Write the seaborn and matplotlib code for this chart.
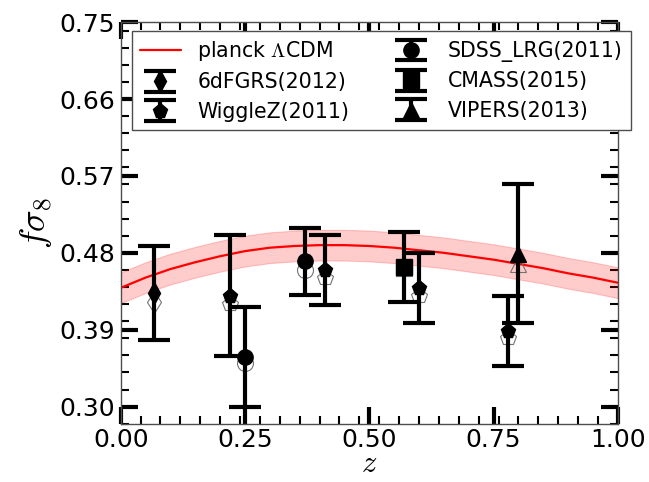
import numpy as np
import matplotlib
matplotlib.use("Agg")
import matplotlib.pyplot as plt
from matplotlib.ticker import MultipleLocator, FormatStrFormatter
import seaborn as sns

# planck LCDM prediction
z_model = [0.00, 0.05, 0.10, 0.15, 0.20, 0.25, 0.30, 0.35, 0.40, 0.45, 0.50,
           0.55, 0.60, 0.65, 0.70, 0.75, 0.80, 0.85, 0.90, 0.95, 1.00]
fs8_model = [0.439, 0.451, 0.461, 0.469, 0.476, 0.482, 0.486, 0.488, 0.489, 0.489, 0.488,
             0.486, 0.483, 0.480, 0.476, 0.472, 0.467, 0.462, 0.456, 0.451, 0.445]
fs8_model_err = [0.018] * len(z_model)

# survey measurements (filled = shifted values, open = original values)
z_6df = [0.067]
fs8_6df = [0.433]
err_6df = [0.055]
fs8_6df_open = [0.422]

z_wigglez = [0.22, 0.41, 0.60, 0.78]
fs8_wigglez = [0.430, 0.460, 0.439, 0.388]
err_wigglez = [0.071, 0.041, 0.041, 0.041]
fs8_wigglez_open = [0.42, 0.45, 0.43, 0.38]

z_sdss = [0.25, 0.37]
fs8_sdss = [0.358, 0.470]
err_sdss = [0.059, 0.039]
fs8_sdss_open = [0.351, 0.460]

z_cmass = [0.57]
fs8_cmass = [0.463]
err_cmass = [0.041]
fs8_cmass_open = [0.462]

z_vipers = [0.80]
fs8_vipers = [0.479]
err_vipers = [0.081]
fs8_vipers_open = [0.467]

xtick_vals = [0.00, 0.25, 0.50, 0.75, 1.00]
ytick_vals = [0.30, 0.39, 0.48, 0.57, 0.66, 0.75]

sns.set_style("white")
plt.rcParams["mathtext.fontset"] = "cm"
plt.rcParams["font.family"] = ["DejaVu Sans"]
for key in ["text.color", "axes.labelcolor", "xtick.color", "ytick.color"]:
    plt.rcParams[key] = "black"
plt.rcParams["xtick.direction"] = "in"
plt.rcParams["ytick.direction"] = "in"

fig = plt.figure(figsize=(6.49, 4.82), dpi=100)
ax = fig.add_subplot(111)
fig.subplots_adjust(left=0.186, right=0.952, bottom=0.121, top=0.954)

# model curve + band
lo = [m - e for m, e in zip(fs8_model, fs8_model_err)]
hi = [m + e for m, e in zip(fs8_model, fs8_model_err)]
ax.fill_between(z_model, lo, hi, color="red", alpha=0.2, lw=0.8, zorder=1)
sns.lineplot(x=z_model, y=fs8_model, color="red", lw=1.6, ax=ax, zorder=2)
line_handle = ax.lines[-1]

surveys = [
    ("6dFGRS(2012)", z_6df, fs8_6df, err_6df, fs8_6df_open, "d"),
    ("WiggleZ(2011)", z_wigglez, fs8_wigglez, err_wigglez, fs8_wigglez_open, "p"),
    ("SDSS_LRG(2011)", z_sdss, fs8_sdss, err_sdss, fs8_sdss_open, "o"),
    ("CMASS(2015)", z_cmass, fs8_cmass, err_cmass, fs8_cmass_open, "s"),
    ("VIPERS(2013)", z_vipers, fs8_vipers, err_vipers, fs8_vipers_open, "^"),
]

handles = {}
for name, zz, val, err, val_open, mk in surveys:
    # open markers for original values
    ax.plot(zz, val_open, ls="none", marker=mk, ms=11.5, mfc="none",
            mec="0.45", mew=0.8, zorder=3)
    h = ax.errorbar(zz, val, yerr=err, fmt=mk, color="black", ms=11,
                    elinewidth=3, capsize=11.5, capthick=3, zorder=4)
    handles[name] = h

order = ["6dFGRS(2012)", "WiggleZ(2011)", "SDSS_LRG(2011)", "CMASS(2015)", "VIPERS(2013)"]
leg_handles = [line_handle] + [handles[n] for n in order]
leg_labels = [r"planck $\Lambda$CDM"] + order
leg = ax.legend(leg_handles, leg_labels, ncol=2, fontsize=14.8, loc="upper left",
                bbox_to_anchor=(0.022, 0.978), borderaxespad=0, fancybox=False,
                framealpha=1, edgecolor="0.3", labelspacing=0.45)
leg.get_frame().set_linewidth(1.0)

ax.set_xlim(0, 1)
ax.set_ylim(0.28, 0.75)
ax.set_xticks(xtick_vals)
ax.set_yticks(ytick_vals)
ax.xaxis.set_major_formatter(FormatStrFormatter("%.2f"))
ax.yaxis.set_major_formatter(FormatStrFormatter("%.2f"))
ax.xaxis.set_minor_locator(MultipleLocator(0.04))
ax.yaxis.set_minor_locator(MultipleLocator(0.02))
ax.tick_params(which="major", direction="in", length=12, width=3, pad=4,
               top=True, right=True, bottom=True, left=True, labelsize=18)
ax.tick_params(axis="x", which="major", pad=3)
ax.tick_params(which="minor", direction="in", length=6, width=1.5,
               top=True, right=True, bottom=True, left=True)
for sp in ax.spines.values():
    sp.set_color("0.3")
    sp.set_linewidth(1.0)

ax.set_xlabel(r"$z$", fontsize=22, labelpad=-2)
ax.set_ylabel(r"$f\sigma_8$", fontsize=26, labelpad=4)

plt.savefig("out.png", dpi=100)
plt.close()
